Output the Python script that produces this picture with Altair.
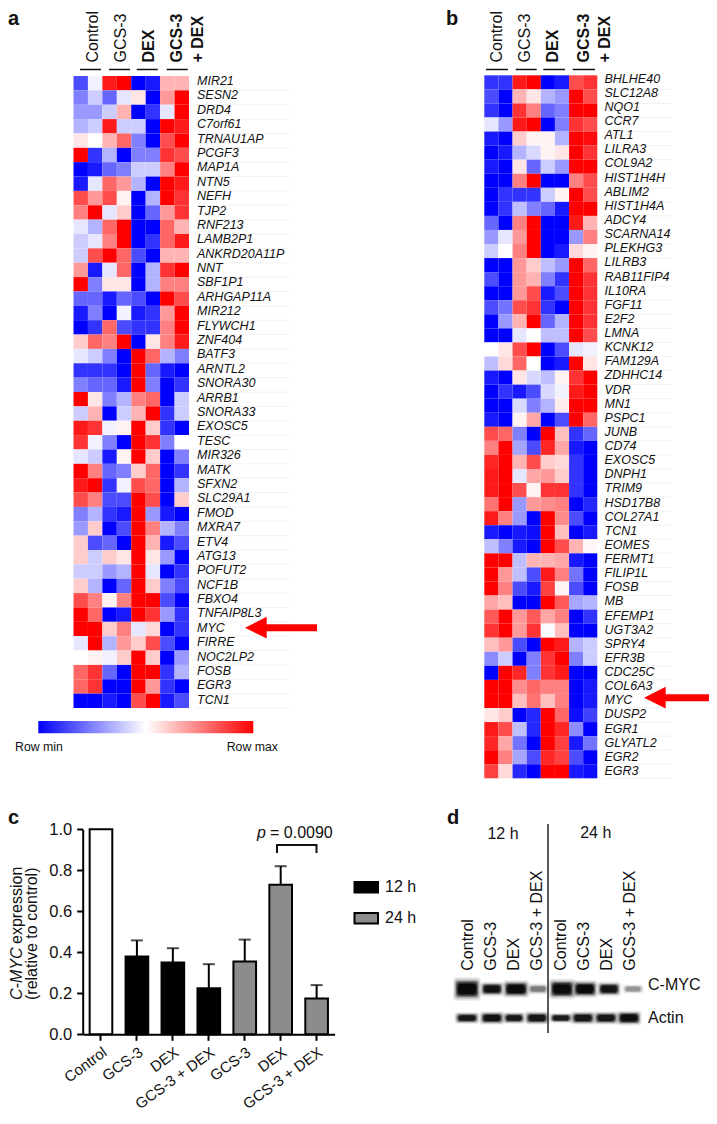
import altair as alt
import pandas as pd

FONT = "Liberation Sans"
M = 8  # page margin

COLS = ["Ctrl1", "Ctrl2", "GCS1", "GCS2", "DEX1", "DEX2", "Both1", "Both2"]

GENES_A = ["MIR21","SESN2","DRD4","C7orf61","TRNAU1AP","PCGF3","MAP1A","NTN5","NEFH","TJP2","RNF213","LAMB2P1",
           "ANKRD20A11P","NNT","SBF1P1","ARHGAP11A","MIR212","FLYWCH1","ZNF404","BATF3","ARNTL2","SNORA30","ARRB1",
           "SNORA33","EXOSC5","TESC","MIR326","MATK","SFXN2","SLC29A1","FMOD","MXRA7","ETV4","ATG13","POFUT2","NCF1B",
           "FBXO4","TNFAIP8L3","MYC","FIRRE","NOC2LP2","FOSB","EGR3","TCN1"]
HEAT_A = [
 [-7,-0.5,9,10,-10,-9,3,3],[-5,-2,-6,-1,1,-10,4,10],[-4,-4,-2,3,-10,-8,-1,10],[-3,-2,9,-2,-2,-10,10,9],
 [1,0,3,6,-5,-10,7,10],[10,-8,-3,-10,-5,-5,8,7],[-10,-9,-6,-5,-2,-2,5,10],[-9,-1,6,4,-3,-10,10,9],
 [7,4,7,0.5,-10,-3,10,8],[5,10,-1,2,-10,-6,4,8],[-1,-3,6,10,-10,-10,6,3],[-2,-1,5,10,-10,-8,6,9],
 [-2,7,10,6,-7,-10,3,3],[4,-9,-1,6,-10,-3,8,10],[10,-5,1,1,-10,-3,5,5],[-6,-6,-9,-6,-7,-10,10,7],
 [-9,-5,-10,-0.5,-9,-8,4,10],[-10,-8,6,-7,-8,-8,5,10],[2,6,5,10,-10,1,5,9],[-1,-2,-5,-10,10,6,-3,-5],
 [-8,-8,-8,-10,10,-6,-9,-10],[-5,-6,-6,-9,10,-5,-10,-8],[10,1,-5,-3,5,6,-10,-2],[-2,3,-10,-2,3,10,-8,-2],
 [9,8,-0.5,0.5,10,2,-8,-10],[8,-0.5,-5,-10,10,8,-5,0],[-1,-2,-9,0.5,10,2,-10,-5],[10,5,-6,-5,2,6,-10,-8],
 [9,10,-8,-0.5,7,6,-10,-3],[7,5,-7,-7,10,7,-10,2],[-5,-3,-8,-9,10,-4,-9,-10],[-4,2,-10,-7,10,5,-3,-5],
 [2,-7,-6,-10,10,3,-9,-7],[2,-2,2,1,10,1,-4,-10],[-2,-2,-4,-3,10,-1,-10,-8],[2,-3,-10,-6,10,2,-5,-7],
 [7,5,0.5,5,10,10,-7,-10],[10,6,-10,-9,10,8,-4,-8],[10,10,2,5,-1,1.5,-10,-8],[-1,10,-3,4,2,7,-7,-10],
 [0,0.5,-0.5,2,10,2,-10,-4],[6,8,-6,-10,10,10,-8,-3],[6,8,-10,-10,10,4,-8,-10],[-10,-10,-9,-10,7,10,-9,-7],
]

GENES_B = ["BHLHE40","SLC12A8","NQO1","CCR7","ATL1","LILRA3","COL9A2","HIST1H4H","ABLIM2","HIST1H4A","ADCY4",
           "SCARNA14","PLEKHG3","LILRB3","RAB11FIP4","IL10RA","FGF11","E2F2","LMNA","KCNK12","FAM129A","ZDHHC14","VDR",
           "MN1","PSPC1","JUNB","CD74","EXOSC5","DNPH1","TRIM9","HSD17B8","COL27A1","TCN1","EOMES","FERMT1","FILIP1L",
           "FOSB","MB","EFEMP1","UGT3A2","SPRY4","EFR3B","CDC25C","COL6A3","MYC","DUSP2","EGR1","GLYATL2","EGR2","EGR3"]
HEAT_B = [
 [-8,-8,9,10,-10,-9,7,8],[-7,-10,3,1,-3,-4,10,7],[-8,-10,8,5,-6,-5,10,10],[-1,-4,9,10,-10,-5,8,7],
 [-9,-10,2,0.5,0.5,-3,10,9.5],[-10,-9,-3,-1.5,0.5,1,10,8],[-9,-10,1,-6,-2,-4,10,10],[-10,-10,5,10,-10,-10,5,7],
 [-10,-8,-8,-8,-2,0.5,10,7],[-10,-8,-2.5,-5,-6,-9,10,10],[-6,-10,5,10,-10,-10,9,3],[-4,-1,4,10,-10,-10,-4,5],
 [-2,0,5,10,-10,-9,1.5,0.5],[-10,-10,4,2,-2.5,-4,10,6],[-7,-10,4,3,-5,-8,10,8],[-10,-10,4,7,-9,-7,10,8],
 [-7,-5.5,7,8,-8,-10,10,8],[-10,-4,3,10,-6,-3,10,8],[-10,-10,-1,0,-2.5,-2.5,10,7],[0,1,7,10,-10,-7,-1,-0.5],
 [-2.5,1.5,6,0,-10,-9,10,1],[-9,-10,1,-1.5,-2.5,0.5,8,10],[-10,-8,-9,-7,-1.5,-0.5,9,10],[-10,-10,-1.5,-5,-3,0.7,10,10],
 [-9,-10,0.5,3.5,-10,-7,10,6],[7,6,-5,-10,10,2.5,-8,-6],[5,10,-3.5,-7,8.5,3.5,-9,-10],[8.5,10,3,7,2,1.5,-8,-10],
 [9,10,-1,3.5,4,2,-8,-10],[9,10,7,0.5,8,8,-8,-10],[5.5,10,-4,4,4.5,5,-10,-8.5],[9,5,-4,-10,10,4.5,-7,-10],
 [-9,-10,-9,-9.5,10,2.5,-10,-9],[-2.5,-5,-9,-10,10,7,3,0.3],[10,10,-2.5,3,3,3.5,-9,-10],[10,4,-2.5,-7,9,5,-5.5,-10],
 [10,5,-7,-9,7.5,0.5,-7,-10],[3.5,2.5,-10,-10,10,6.5,-3.5,-3],[6.5,10,4,6.5,3.5,5,-10,-8],[8,10,4,8,-0.2,2.5,-10,-10],
 [2.5,4,-7,-10,10,9,-3,-2],[-4.5,-2,-10,-5,8,10,-5,-2],[-10,10,8.5,-5,8,9,-10,-10],[10,10,4.5,6,5,5,-10,-9],
 [10,10,2.5,5.5,2.5,5,-10,-9],[1,2,-10,-8.5,10,6,-9.5,-7.5],[9,7,-2.5,-8.5,10,8.5,-4.5,-10],[8.5,3.5,-5.5,-10,10,7.5,-9,-5.5],
 [10,5,-3.5,-7,8.5,7.5,-7,-10],[7.5,1.5,-8.5,-10,10,10,-9,-9.5],
]

BAR_LABELS = ["Control", "GCS-3", "DEX", "GCS-3 + DEX", "GCS-3 ", "DEX ", "GCS-3 + DEX "]
BAR_VALUES = [1.0, 0.38, 0.35, 0.225, 0.355, 0.73, 0.175]
BAR_UPPER = [None, 0.458, 0.42, 0.342, 0.462, 0.82, 0.24]
BAR_GROUP = ["Control", "12 h", "12 h", "12 h", "24 h", "24 h", "24 h"]

LANES = [f"lane{i}" for i in range(8)]
MYC_X = [17, 42, 66, 88, 112, 135, 159, 183]
MYC_W = [23, 20, 22, 19, 22, 21, 20, 19]
MYC_H = [16, 10, 12, 8, 14, 12, 10, 7]
MYC_I = [1.0, 0.9, 1.0, 0.32, 1.0, 1.0, 0.88, 0.24]
ACT_X = [17, 42, 64, 87, 111, 133, 156, 179]
ACT_W = [21, 21, 19, 21, 20, 21, 21, 21]
ACT_H = [8, 9, 8, 9, 7, 9, 9, 10]
ACT_I = [0.85, 0.9, 0.85, 0.85, 0.8, 0.85, 0.85, 0.95]
BLUR = [(1.22, 1.5, .07), (1.14, 1.32, .1), (1.06, 1.16, .18), (.98, 1.0, .32), (.9, .84, .55), (.78, .65, .8)]


def T(s, x, y, size=16, style="normal", weight="normal", angle=0, align="left", baseline="middle", color="#111"):
    return alt.Chart(alt.Data(values=[{}])).mark_text(
        text=s, font=FONT, fontSize=size, fontStyle=style, fontWeight=weight, angle=angle,
        align=align, baseline=baseline, color=color).encode(x=alt.value(x - M), y=alt.value(y - M))


def R(x0, x1, y0, y1, w=1.5, color="#111"):
    return alt.Chart(alt.Data(values=[{}])).mark_rule(stroke=color, strokeWidth=w).encode(
        x=alt.value(x0 - M), x2=alt.value(x1 - M), y=alt.value(y0 - M), y2=alt.value(y1 - M))


def heat(genes, rows, x0, x1, y0, y1, tx, ty0, ty1, rx1):
    df = pd.DataFrame([{"gene": g, "col": c, "v": v} for g, r in zip(genes, rows) for c, v in zip(COLS, r)])
    xs = alt.Scale(type="band", domain=COLS, range=[x0 - M, x1 - M], padding=0)
    ys = alt.Scale(type="band", domain=genes, range=[y0 - M, y1 - M], padding=0)
    cells = alt.Chart(df).mark_rect(strokeWidth=0).encode(
        x=alt.X("col:N", scale=xs, axis=None),
        y=alt.Y("gene:N", scale=ys, axis=None),
        color=alt.Color("v:Q", legend=None,
                        scale=alt.Scale(domain=[-10, 0, 10], range=["#0000ff", "#ffffff", "#ff0000"], interpolate="rgb")))
    gdf = pd.DataFrame({"gene": genes})
    rules = alt.Chart(gdf).mark_rule(stroke="#efefef", strokeWidth=0.8).encode(
        y=alt.Y("gene:N", scale=ys, axis=None, bandPosition=1),
        x=alt.value(tx - 1 - M), x2=alt.value(rx1 - M))
    labels = alt.Chart(gdf).mark_text(font=FONT, fontSize=12.5, fontStyle="italic", align="left",
                                      baseline="middle", color="#111").encode(
        y=alt.Y("gene:N", axis=None,
                scale=alt.Scale(type="point", domain=genes, range=[ty0 - M, ty1 - M], padding=0)),
        x=alt.value(tx - M), text="gene:N")
    return [rules, cells, labels]


def arrow(tip, base, end, y):
    head = alt.Chart(alt.Data(values=[{}])).mark_point(
        shape="M-1,0L1,-1L1,1Z", size=470, filled=True, fill="#ff0000", opacity=1, strokeWidth=0).encode(
        x=alt.value((tip + base) / 2 - M), y=alt.value(y - M))
    return [R(base - 1, end, y, y, w=7, color="#ff0000"), head]


def blot(xs_, ws, hs, ints, yc):
    rows = []
    for xc, w, h, i, lane in zip(xs_, ws, hs, ints, LANES):
        for fw, fh, a in BLUR:
            rows.append({"x0": xc - w * fw / 2, "x1": xc + w * fw / 2, "y0": -h * fh / 2, "y1": h * fh / 2, "o": a * i})
    df = pd.DataFrame(rows)
    return alt.Chart(df).mark_rect(fill="#000000", cornerRadius=3, strokeWidth=0).encode(
        x=alt.X("x0:Q", axis=None, scale=alt.Scale(domain=[0, 200], range=[450 - M, 650 - M])),
        x2="x1:Q",
        y=alt.Y("y0:Q", axis=None, scale=alt.Scale(domain=[-20, 20], range=[yc + 20 - M, yc - 20 - M])),
        y2="y1:Q",
        opacity=alt.Opacity("o:Q", scale=None))


layers = []

# panel letters
for s, x, y in [("a", 8, 19), ("b", 446, 19), ("c", 8, 818), ("d", 447, 818)]:
    layers.append(T(s, x, y, size=20, weight="bold"))

# headers
for x, s, w in [(92.7, "Control", "normal"), (120.7, "GCS-3", "normal"), (149.3, "DEX", "bold"),
                (177.3, "GCS-3", "bold"), (198.3, "+ DEX", "bold"),
                (496.7, "Control", "normal"), (525, "GCS-3", "normal"), (553.3, "DEX", "bold"),
                (584, "GCS-3", "bold"), (605, "+ DEX", "bold")]:
    layers.append(T(s, x, 62.5, angle=270, weight=w))
for a, b in [(80, 101), (109, 130), (136.7, 157.7), (166.7, 187.7), (486, 508), (515.7, 536.7), (543.3, 565), (572.7, 595)]:
    layers.append(R(a, b, 69.5, 69.5))

# heatmaps
layers += heat(GENES_A, HEAT_A, 73.5, 189, 76, 708, 197, 81, 699.8, 289)
layers += heat(GENES_B, HEAT_B, 484.3, 597.3, 75.3, 778.3, 604.5, 78.7, 771, 672)
layers += arrow(245, 266.7, 317, 627.7)
layers += arrow(644, 665.7, 717, 697.7)

# colour bar
layers.append(alt.Chart(alt.Data(values=[{}])).mark_rect(
    color=alt.LinearGradient(gradient="linear", x1=0, x2=1, y1=0, y2=0, stops=[
        alt.GradientStop(offset=0, color="#0000ff"), alt.GradientStop(offset=0.5, color="#ffffff"),
        alt.GradientStop(offset=1, color="#ff0000")])).encode(
    x=alt.value(38.3 - M), x2=alt.value(253.3 - M), y=alt.value(721 - M), y2=alt.value(733.3 - M)))
layers.append(T("Row min", 15, 746.7, size=12.3))
layers.append(T("Row max", 226.7, 746.7, size=12.3))

# bars
H_TOTAL = 1103
bdf = pd.DataFrame({"name": BAR_LABELS, "v": BAR_VALUES, "u": BAR_UPPER, "g": BAR_GROUP})
bx = alt.Scale(type="band", domain=BAR_LABELS, range=[83 - M, 334.6 - M], paddingInner=0.37, paddingOuter=0.185)
by = alt.Scale(domain=[0, 1], range=[1034.3 - M, 829.3 - M])
errs = bdf.dropna(subset=["u"])
layers.append(alt.Chart(errs).mark_rule(stroke="#000", strokeWidth=2).encode(
    x=alt.X("name:N", scale=bx, axis=None), y=alt.Y("v:Q", scale=by, axis=None), y2="u:Q"))
layers.append(alt.Chart(errs).mark_tick(color="#000", thickness=2, size=12).encode(
    x=alt.X("name:N", scale=bx, axis=None), y=alt.Y("u:Q", scale=by, axis=None)))
layers.append(alt.Chart(bdf).mark_bar(stroke="#000", strokeWidth=2).encode(
    x=alt.X("name:N", scale=bx, sort=None, title=None, axis=alt.Axis(
        orient="bottom", offset=1034.3 - M - H_TOTAL, labelAngle=-36, labelAlign="right", labelBaseline="top",
        labelFont=FONT, labelFontSize=15, labelColor="#111", labelPadding=4, tickSize=6, tickWidth=2, tickColor="#000",
        domainWidth=2, domainColor="#000", labelOverlap=False, labelLimit=200)),
    y=alt.Y("v:Q", scale=by, title=None, axis=alt.Axis(
        orient="left", offset=-(82.7 - M), values=[0, .2, .4, .6, .8, 1], format=".1f", labelFont=FONT,
        labelFontSize=16.5, labelColor="#111", labelPadding=5, tickSize=6, tickWidth=2, tickColor="#000",
        domainWidth=2, domainColor="#000", grid=False)),
    fill=alt.Fill("g:N", legend=None, scale=alt.Scale(domain=["Control", "12 h", "24 h"],
                                                      range=["#ffffff", "#000000", "#8c8c8c"]))))

# bar chart annotations
layers.append(T("C-MYC", 17, 1000, size=16, style="italic", angle=270))
layers.append(T("expression", 17, 944, size=16, angle=270))
layers.append(T("(relative to control)", 32, 1000, size=16, angle=270))
layers.append(T("p", 257, 833, size=16, style="italic"))
layers.append(T("= 0.0090", 270, 833, size=16))
layers.append(R(277, 316.5, 845, 845, w=2))
layers.append(R(277, 277, 844, 853, w=2))
layers.append(R(316.5, 316.5, 844, 853, w=2))
for y0, y1, fill in [(882, 892.5, "#000000"), (913, 923.5, "#8c8c8c")]:
    layers.append(alt.Chart(alt.Data(values=[{}])).mark_rect(fill=fill, stroke="#000", strokeWidth=2).encode(
        x=alt.value(354.5 - M), x2=alt.value(378 - M), y=alt.value(y0 - M), y2=alt.value(y1 - M)))
layers.append(T("12 h", 385, 887, size=16))
layers.append(T("24 h", 385, 918, size=16))

# blot
layers.append(blot(MYC_X, MYC_W, MYC_H, MYC_I, 989))
layers.append(blot(ACT_X, ACT_W, ACT_H, ACT_I, 1018))
for x, s in [(467.7, "Control"), (491, "GCS-3"), (514, "DEX"), (537.3, "GCS-3 + DEX"),
             (561, "Control"), (584, "GCS-3"), (607, "DEX"), (630, "GCS-3 + DEX")]:
    layers.append(T(s, x, 970.7, angle=270))
layers.append(R(548, 548, 824, 1033, w=1.5, color="#222"))
layers.append(T("12 h", 503, 834, size=16, align="center"))
layers.append(T("24 h", 595.7, 833, size=16, align="center"))
layers.append(T("C-MYC", 648, 985, size=16))
layers.append(T("Actin", 648, 1018, size=16))

chart = alt.layer(*layers).resolve_scale(x="independent", y="independent", color="independent", opacity="independent").properties(
    width=701, height=H_TOTAL, padding=0, autosize=alt.AutoSizeParams(type="none")
).configure_view(strokeWidth=0)

chart.save("out.html", embed_options={"renderer": "svg", "actions": False})
